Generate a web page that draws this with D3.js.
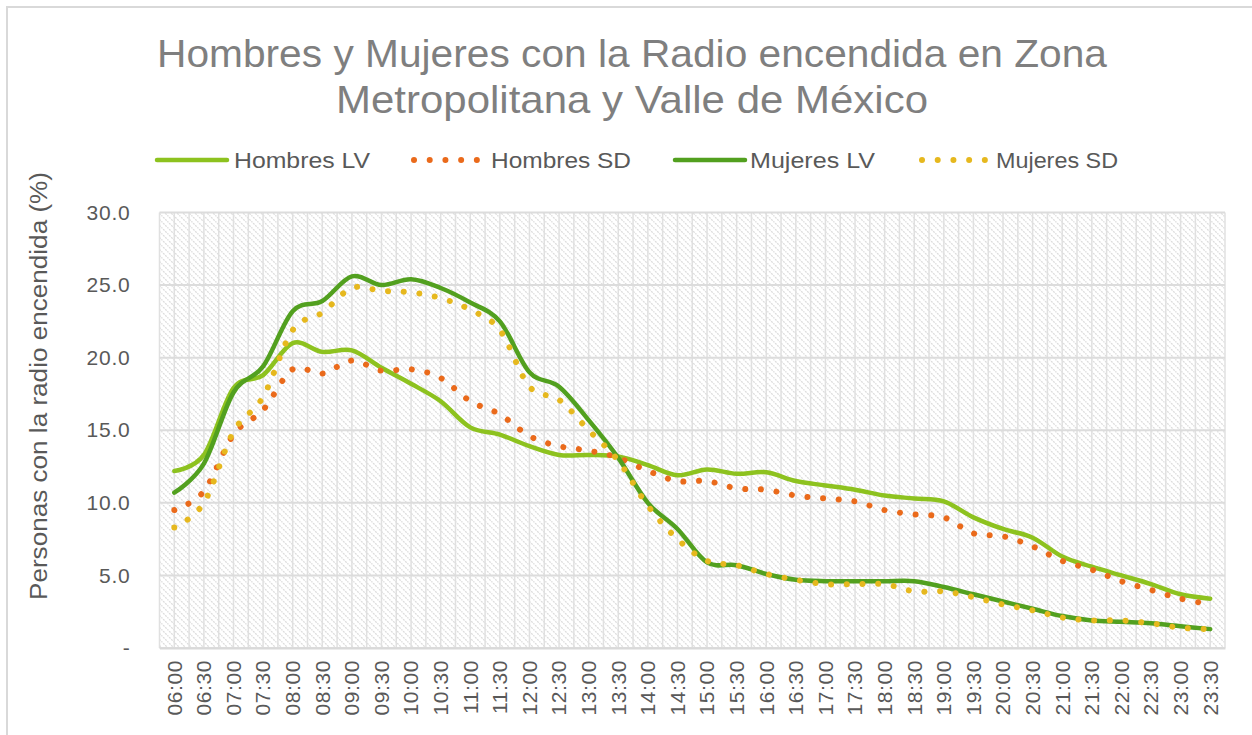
<!DOCTYPE html>
<html><head><meta charset="utf-8">
<script src="https://cdn.jsdelivr.net/npm/d3@7"></script>
<style>html,body{margin:0;padding:0;background:#fff;}svg{display:block;}</style>
</head><body>
<script>
const times = ["06:00","06:30","07:00","07:30","08:00","08:30","09:00","09:30","10:00","10:30","11:00","11:30","12:00","12:30","13:00","13:30","14:00","14:30","15:00","15:30","16:00","16:30","17:00","17:30","18:00","18:30","19:00","19:30","20:00","20:30","21:00","21:30","22:00","22:30","23:00","23:30"];
const hombresLV = [12.2,13.3,17.9,18.8,21.0,20.4,20.5,19.3,18.2,17.0,15.2,14.7,13.9,13.3,13.3,13.2,12.6,11.9,12.3,12.0,12.1,11.5,11.2,10.9,10.5,10.3,10.1,9.0,8.2,7.6,6.3,5.6,5.0,4.4,3.7,3.4];
const hombresSD = [9.5,10.8,14.7,16.4,19.2,18.9,19.8,19.1,19.2,18.6,17.0,16.1,14.6,13.9,13.6,13.1,12.2,11.5,11.5,11.0,10.9,10.5,10.3,10.1,9.5,9.2,9.0,7.9,7.7,7.0,6.0,5.4,4.6,4.0,3.4,3.0];
const mujeresLV = [10.7,12.7,17.6,19.4,23.2,23.9,25.6,25.0,25.4,24.8,23.8,22.5,19.0,18.0,15.7,13.1,10.0,8.2,5.9,5.7,5.1,4.7,4.6,4.6,4.6,4.6,4.2,3.7,3.2,2.7,2.2,1.9,1.8,1.7,1.5,1.3];
const mujeresSD = [8.3,10.0,14.9,17.3,21.9,23.1,24.8,24.6,24.5,24.1,23.3,21.9,18.0,17.1,15.0,12.9,9.8,7.5,6.0,5.7,5.1,4.7,4.4,4.4,4.4,3.9,3.9,3.5,3.0,2.6,2.1,1.9,1.9,1.7,1.4,1.3];
const yTicks = [0,5,10,15,20,25,30];
const seriesNames = ["Hombres LV","Hombres SD","Mujeres LV","Mujeres SD"];
const titleLines = ["Hombres y Mujeres con la Radio encendida en Zona","Metropolitana y Valle de México"];
const yTitle = "Personas con la radio encendida (%)";

const series = [
  {name: seriesNames[0], values: hombresLV, color: "#8dc21f", dotted: false},
  {name: seriesNames[1], values: hombresSD, color: "#ea6a1b", dotted: true},
  {name: seriesNames[2], values: mujeresLV, color: "#52a01f", dotted: false},
  {name: seriesNames[3], values: mujeresSD, color: "#e6b81e", dotted: true}
];

const W = 1252, H = 735;
const font = "'Century Gothic','Liberation Sans','DejaVu Sans',sans-serif";
const svg = d3.select("body").append("svg").attr("width", W).attr("height", H);

// chart border
svg.append("rect").attr("x",7).attr("y",7).attr("width",W+10).attr("height",H+10)
  .attr("fill","#fff").attr("stroke","#d9d9d9").attr("stroke-width",2);

const plot = {left:159.5, right:1225, top:212.5, bottom:648};
const x = d3.scaleBand().domain(times).range([plot.left, plot.right]).padding(0);
const cx = t => x(t) + x.bandwidth()/2;
const y = d3.scaleLinear().domain([0,30]).range([plot.bottom, plot.top]);

// pattern
const defs = svg.append("defs");
const pat = defs.append("pattern").attr("id","hatch").attr("patternUnits","userSpaceOnUse")
  .attr("width",6).attr("height",6);
pat.append("rect").attr("width",6).attr("height",6).attr("fill","#fff");
pat.append("path").attr("d","M-1,-1 L7,7 M-1,5 L1,7 M5,-1 L7,1").attr("stroke","#dcdcdc").attr("stroke-width",1.3)
  .attr("stroke-dasharray","2 1");

svg.append("rect").attr("x",plot.left).attr("y",plot.top)
  .attr("width",plot.right-plot.left).attr("height",plot.bottom-plot.top).attr("fill","url(#hatch)");

// gridlines
const grid = svg.append("g");
const vx = [];
times.forEach(t => { vx.push(x(t)); vx.push(cx(t)); });
vx.push(plot.right);
grid.selectAll("line.v").data(vx).join("line").attr("class","v")
  .attr("x1",d=>d).attr("x2",d=>d).attr("y1",plot.top).attr("y2",plot.bottom)
  .attr("stroke","#e0e0e0").attr("stroke-width",1.5);
grid.selectAll("line.h").data(yTicks).join("line").attr("class","h")
  .attr("x1",plot.left).attr("x2",plot.right).attr("y1",d=>y(d)).attr("y2",d=>y(d))
  .attr("stroke","#dcdcdc").attr("stroke-width",2);

// y axis
const yAxis = d3.axisLeft(y).tickValues(yTicks).tickSize(0).tickPadding(29)
  .tickFormat(d => d === 0 ? "-" : d3.format(".1f")(d));
const gy = svg.append("g").attr("transform",`translate(${plot.left},0)`).call(yAxis);
gy.select(".domain").remove();
gy.selectAll("text").attr("font-family",font).attr("font-size",21).attr("fill","#595959")
  .attr("letter-spacing",0.8);

// x axis
const xAxis = d3.axisBottom(x).tickSize(0).tickPadding(0);
const gx = svg.append("g").attr("transform",`translate(0,${plot.bottom})`).call(xAxis);
gx.select(".domain").attr("stroke","#d9d9d9").attr("stroke-width",2);
gx.selectAll("text").attr("font-family",font).attr("font-size",21).attr("fill","#595959")
  .attr("text-anchor","end").attr("dy","0.35em").attr("letter-spacing",0.6)
  .attr("transform","translate(0,12) rotate(-90)");

// lines
const line = d3.line().x((d,i)=>cx(times[i])).y(d=>y(d)).curve(d3.curveCardinal.tension(0));
series.forEach(s => {
  const p = svg.append("path").datum(s.values).attr("d",line).attr("fill","none")
    .attr("stroke",s.color).attr("stroke-linejoin","round");
  if (s.dotted) p.attr("stroke-width",6).attr("stroke-linecap","round").attr("stroke-dasharray","0.01 15.7");
  else p.attr("stroke-width",4.5).attr("stroke-linecap","round");
});

// title
const titleLen = [950, 592];
svg.append("g").selectAll("text").data(titleLines).join("text")
  .attr("x",632).attr("y",(d,i)=>67+i*46).attr("text-anchor","middle")
  .attr("font-family",font).attr("font-size",39).attr("fill","#7f7f7f")
  .attr("textLength",(d,i)=>titleLen[i]).attr("lengthAdjust","spacingAndGlyphs").text(d=>d);

// legend
const legendPos = [{lx:157, lw:70, tx:234, tw:136},{lx:414, lw:70, tx:491, tw:140},{lx:675, lw:70, tx:750, tw:125},{lx:922, lw:64, tx:996, tw:122}];
const lg = svg.append("g");
series.forEach((s,i) => {
  const L = legendPos[i];
  const p = lg.append("line").attr("x1",L.lx).attr("x2",L.lx+L.lw).attr("y1",160).attr("y2",160)
    .attr("stroke",s.color).attr("stroke-linecap","round");
  if (s.dotted) p.attr("stroke-width",6).attr("stroke-dasharray","0.01 15.7");
  else p.attr("stroke-width",4.5);
  lg.append("text").attr("x",L.tx).attr("y",168).attr("font-family",font).attr("font-size",22)
    .attr("fill","#595959").attr("textLength",L.tw).attr("lengthAdjust","spacingAndGlyphs").text(s.name);
});

// y title
svg.append("text").attr("transform","translate(47,386) rotate(-90)").attr("text-anchor","middle")
  .attr("font-family",font).attr("font-size",23).attr("fill","#595959")
  .attr("textLength",428).attr("lengthAdjust","spacingAndGlyphs").text(yTitle);
</script>
</body></html>
